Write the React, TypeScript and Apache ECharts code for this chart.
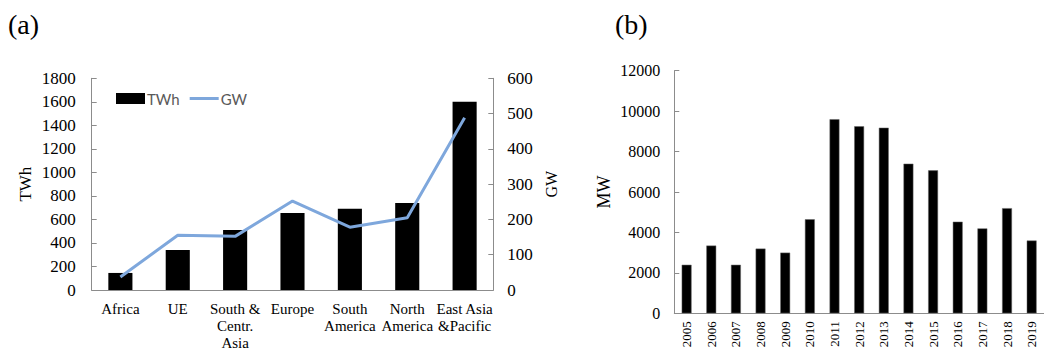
import React, { useEffect, useRef } from "react";
import * as echarts from "echarts";

const regions = ["Africa", "UE", "South &\nCentr.\nAsia", "Europe", "South\nAmerica", "North\nAmerica", "East Asia\n&Pacific"];
const twh = [145, 340, 510, 655, 690, 740, 1600];
const gw = [37, 155, 152, 252, 178, 205, 488];

const years = ["2005", "2006", "2007", "2008", "2009", "2010", "2011", "2012", "2013", "2014", "2015", "2016", "2017", "2018", "2019"];
const mw = [2400, 3350, 2400, 3200, 3000, 4650, 9600, 9250, 9180, 7400, 7070, 4530, 4200, 5200, 3600];

const SERIF = "Liberation Serif";
const AXIS_GRAY = "#8c8c8c";
const LINE_ICON = "path://M0,0H0.01V0.01H0Z M0,4H29V7H0Z M0,10.99H0.01V11H0Z";

export default function App() {
  const ref = useRef<HTMLDivElement>(null);
  useEffect(() => {
    if (!ref.current) return;
    const chart = echarts.init(ref.current, undefined, { renderer: "svg" });
    const axisLine = { show: true, lineStyle: { color: AXIS_GRAY, width: 1 } };
    const plain = (v: number) => String(v);
    const valLabel = (size: number, margin: number) => ({ color: "#000", fontFamily: SERIF, fontSize: size, margin, formatter: plain });
    const tick = { show: true, inside: true, length: 5, lineStyle: { color: AXIS_GRAY } };
    chart.setOption({
      animation: false,
      backgroundColor: "#fff",
      textStyle: { fontFamily: SERIF },
      graphic: [
        { type: "text", left: 8, top: 10, style: { text: "(a)", font: `28px ${SERIF}`, fill: "#000" } },
        { type: "text", left: 615, top: 10, style: { text: "(b)", font: `28px ${SERIF}`, fill: "#000" } },
      ],
      legend: {
        left: 111,
        top: 86,
        itemWidth: 29,
        itemHeight: 11,
        itemGap: 10,
        textStyle: { color: "#595959", fontFamily: "Lato", fontSize: 15, padding: [0, 0, 0, -3] },
        data: [
          { name: "TWh", icon: "rect" },
          { name: "GW", icon: LINE_ICON, itemStyle: { color: "#7ea7dc" } },
        ],
      },
      grid: [
        { left: 91.7, right: 550.7, top: 78.3, bottom: 56.5 },
        { left: 674.3, width: 377, top: 70.7, bottom: 37.7 },
      ],
      xAxis: [
        {
          type: "category",
          gridIndex: 0,
          data: regions,
          axisLine,
          axisTick: { show: false },
          axisLabel: { interval: 0, margin: 10, color: "#000", fontFamily: SERIF, fontSize: 15, lineHeight: 17 },
        },
        {
          type: "category",
          gridIndex: 1,
          data: years,
          axisLine,
          axisTick: { show: false },
          axisLabel: { interval: 0, rotate: 90, margin: 8, color: "#000", fontFamily: SERIF, fontSize: 13 },
        },
      ],
      yAxis: [
        {
          type: "value",
          gridIndex: 0,
          min: 0,
          max: 1800,
          interval: 200,
          position: "left",
          name: "TWh",
          nameLocation: "middle",
          nameRotate: 90,
          nameGap: 58,
          nameTextStyle: { color: "#000", fontFamily: SERIF, fontSize: 17 },
          axisLine,
          axisTick: tick,
          splitLine: { show: false },
          axisLabel: valLabel(17, 16),
        },
        {
          type: "value",
          gridIndex: 0,
          min: 0,
          max: 600,
          interval: 100,
          position: "right",
          name: "GW",
          nameLocation: "middle",
          nameRotate: 90,
          nameGap: 50,
          nameTextStyle: { color: "#000", fontFamily: SERIF, fontSize: 16 },
          axisLine,
          axisTick: tick,
          splitLine: { show: false },
          axisLabel: valLabel(17, 14),
        },
        {
          type: "value",
          gridIndex: 1,
          min: 0,
          max: 12000,
          interval: 2000,
          name: "MW",
          nameLocation: "middle",
          nameRotate: 90,
          nameGap: 61,
          nameTextStyle: { color: "#000", fontFamily: SERIF, fontSize: 18 },
          axisLine,
          axisTick: tick,
          splitLine: { show: false },
          axisLabel: valLabel(16, 14),
        },
      ],
      series: [
        {
          name: "TWh",
          type: "bar",
          xAxisIndex: 0,
          yAxisIndex: 0,
          data: twh,
          barWidth: "42%",
          itemStyle: { color: "#000" },
        },
        {
          name: "GW",
          type: "line",
          xAxisIndex: 0,
          yAxisIndex: 1,
          data: gw,
          symbol: "none",
          lineStyle: { color: "#7ea7dc", width: 3 },
          itemStyle: { color: "#7ea7dc" },
        },
        {
          name: "MW",
          type: "bar",
          xAxisIndex: 1,
          yAxisIndex: 2,
          data: mw,
          barWidth: "40%",
          itemStyle: { color: "#000", borderColor: "#666", borderWidth: 0.5 },
        },
      ],
    });
    return () => chart.dispose();
  }, []);
  return (
    <div
      ref={ref}
      style={{ position: "absolute", left: 0, top: 0, width: 1044, height: 351, background: "#fff" }}
    />
  );
}
